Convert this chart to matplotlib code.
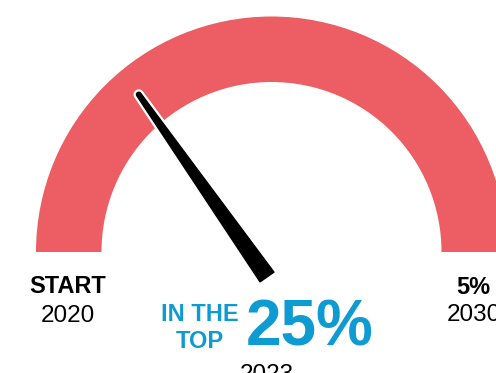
import numpy as np
import matplotlib
matplotlib.use("Agg")
import matplotlib.pyplot as plt
from matplotlib.patches import Wedge, Polygon
import matplotlib.patheffects as pe

W, H = 496, 373

# Dial labels and values
start_label = "START"
start_year = "2020"
end_label = "5%"
end_year = "2030"
current_value = "25%"
current_caption = ["IN THE", "TOP"]
current_year = "2023"
needle_position = 0.305  # share of the dial travelled from the left end

RED = "#EC5E63"
BLUE = "#0E9BD2"
FONT = ["Liberation Sans", "DejaVu Sans"]

fig = plt.figure(figsize=(W / 100, H / 100), dpi=100)
ax = fig.add_axes([0, 0, 1, 1])
ax.set_xlim(0, W)
ax.set_ylim(H, 0)
ax.axis("off")

# Semicircular dial band
cx, cy = 271.5, 252.0
r_out, r_in = 235.5, 170.0
ax.add_patch(Wedge((cx, cy), r_out, 180, 360, width=r_out - r_in,
                   facecolor=RED, edgecolor="none"))

# Tapered needle with a rounded tip
theta = np.radians(180 * (1 - needle_position))
u = np.array([np.cos(theta), -np.sin(theta)])
n = np.array([-u[1], u[0]])
base = np.array([267.0, 277.0])
length = 223.0
hw_base, hw_tip = 8.5, 2.3
tip = base + length * u
pts = [base + n * hw_base, tip + n * hw_tip]
for a in np.linspace(0, np.pi, 20):
    pts.append(tip + hw_tip * (n * np.cos(a) + u * np.sin(a)))
pts += [tip - n * hw_tip, base - n * hw_base]
needle = Polygon(np.array(pts), closed=True, facecolor="black",
                 edgecolor="black", linewidth=1.0, joinstyle="round")
needle.set_path_effects([pe.Stroke(linewidth=4.2, foreground="white",
                                   joinstyle="round"), pe.Normal()])
ax.add_patch(needle)

# Left end labels
ax.text(67.5, 293, start_label, ha="center", va="baseline", fontsize=17,
        fontweight="bold", family=FONT, color="black")
ax.text(67.5, 322, start_year, ha="center", va="baseline", fontsize=17.5,
        family=FONT, color="black")

# Right end labels
ax.text(473.5, 294, end_label, ha="center", va="baseline", fontsize=17,
        fontweight="bold", family=FONT, color="black")
ax.text(474, 321, end_year, ha="center", va="baseline", fontsize=17.5,
        family=FONT, color="black")

# Current reading
ax.text(200, 321, current_caption[0], ha="center", va="baseline", fontsize=17,
        fontweight="bold", family=FONT, color=BLUE)
ax.text(200, 348, current_caption[1], ha="center", va="baseline", fontsize=17,
        fontweight="bold", family=FONT, color=BLUE)
ax.text(246, 346, current_value, ha="left", va="baseline", fontsize=46,
        fontweight="bold", family=FONT, color=BLUE)
ax.text(267, 381, current_year, ha="center", va="baseline", fontsize=17.5,
        family=FONT, color="black")

fig.savefig("out.png", dpi=100)
